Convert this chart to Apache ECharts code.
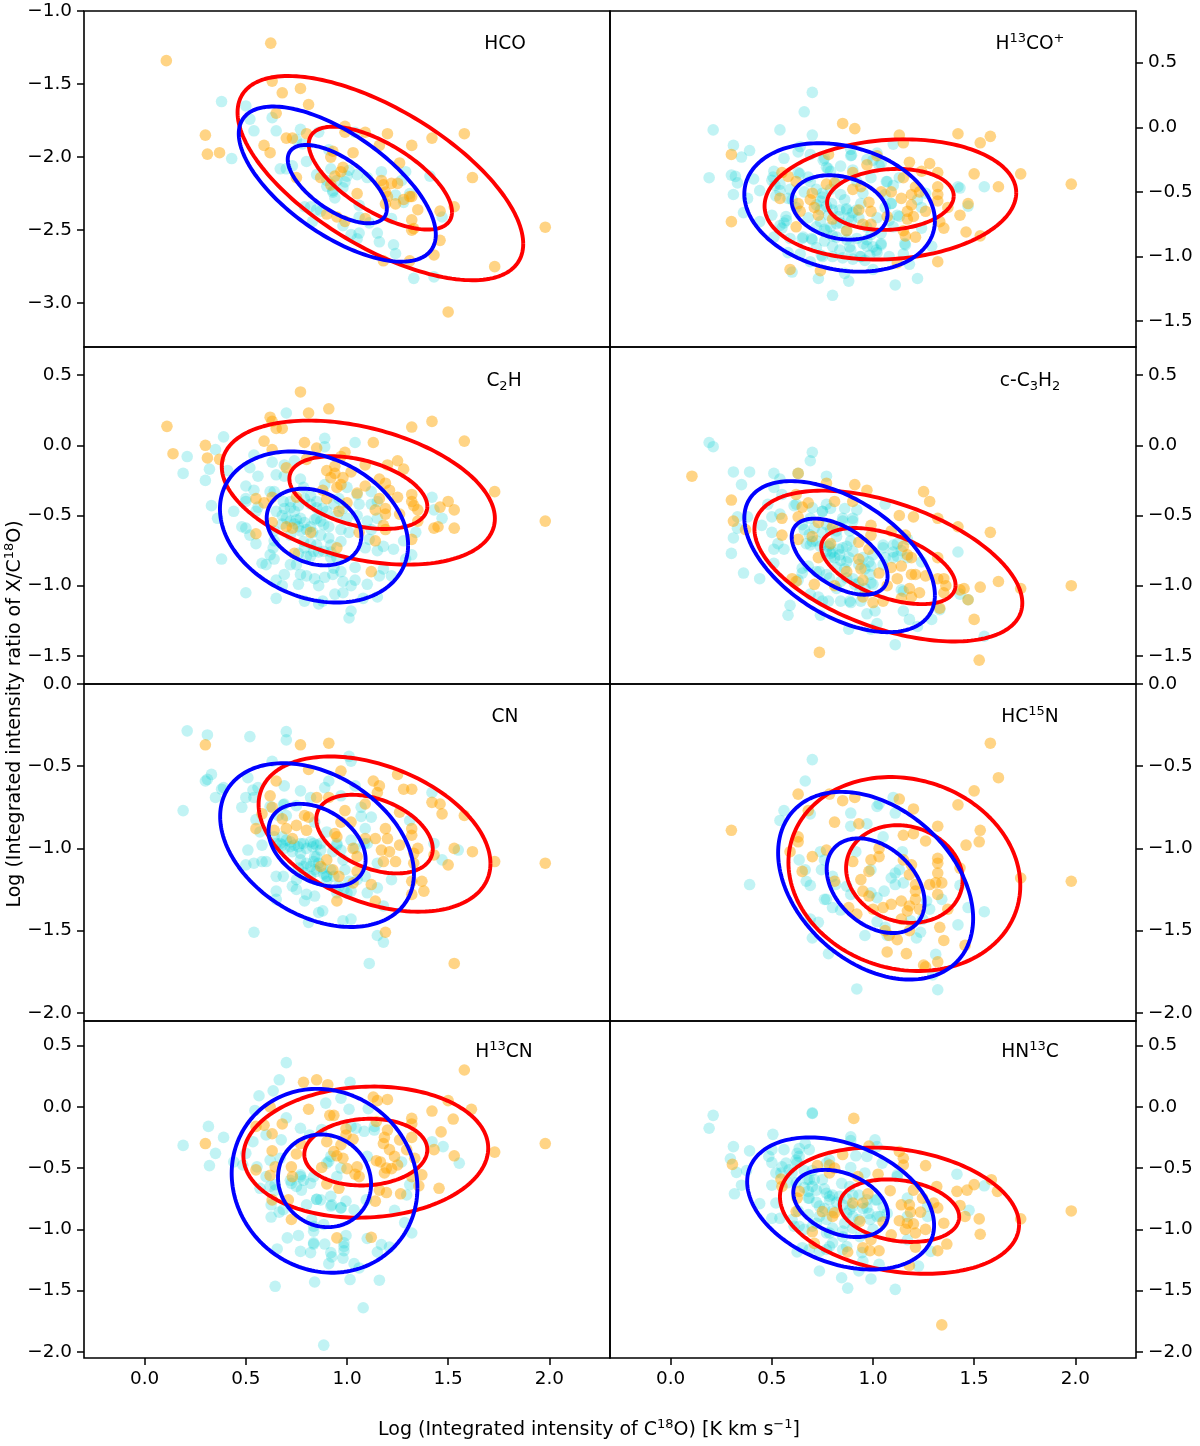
<!DOCTYPE html>
<html><head><meta charset="utf-8">
<style>html,body{margin:0;padding:0;background:#fff}#c{width:1200px;height:1446px}</style>
<script src="https://cdn.jsdelivr.net/npm/echarts@6/dist/echarts.min.js"></script>
</head><body><div id="c"></div>
<script>
// x/y values: [log C18O, log ratio]
const hcoOrange=[[.107,-1.34],[.623,-1.22],[.63,-1.48],[.68,-1.56],[.77,-1.53],[.81,-1.64],[.65,-1.7],[.3,-1.85],[.31,-1.98],[.37,-1.97],[.59,-1.92],[.62,-1.97],[.7,-1.87],[.73,-1.87],[.8,-1.84],[.99,-1.79],[.99,-1.83],[1.09,-1.83],[1.2,-1.84],[1.32,-1.92],[1.42,-1.87],[1.58,-1.84],[1.62,-2.14],[1.16,-1.92],[.93,-1.96],[1.03,-1.97],[.92,-2],[1.26,-2.04],[.75,-2.14],[.98,-2.07],[.97,-2.1],[.94,-2.13],[.87,-2.14],[.92,-2.19],[1.17,-2.16],[1.18,-2.19],[1.22,-2.18],[1.25,-2.18],[1.19,-2.24],[1.2,-2.27],[1.05,-2.25],[1.31,-2.27],[1.28,-2.29],[1.32,-2.27],[1.19,-2.32],[1.24,-2.32],[1.35,-2.36],[1.53,-2.34],[1.46,-2.37],[1.32,-2.43],[1.32,-2.5],[1.33,-2.49],[.9,-2.39],[.95,-2.41],[.99,-2.44],[1.09,-2.42],[1.46,-2.57],[1.43,-2.67],[1.31,-2.71],[1.18,-2.71],[1.73,-2.75],[1.98,-2.48],[1.5,-3.06]];
const hcoTeal=[[.38,-1.62],[.5,-1.65],[.52,-1.74],[.63,-1.73],[.54,-1.82],[.65,-1.82],[.77,-1.81],[.86,-1.83],[1.04,-1.83],[.43,-2.01],[.67,-2.08],[.7,-2.08],[.73,-2.06],[.75,-1.88],[.78,-1.91],[.91,-1.95],[.8,-2.03],[.92,-2.08],[1.01,-2.09],[.85,-2.12],[1.05,-2.12],[1.1,-2.14],[1.17,-2.1],[1.29,-2.1],[1.41,-2.13],[.99,-2.17],[.9,-2.2],[.98,-2.21],[.93,-2.24],[.94,-2.28],[1.27,-2.16],[1.24,-2.26],[1.31,-2.25],[1.28,-2.31],[1.06,-2.33],[.79,-2.34],[.82,-2.34],[.87,-2.37],[1.06,-2.41],[1.11,-2.45],[1.22,-2.42],[1.47,-2.41],[.83,-2.44],[.98,-2.47],[1.02,-2.53],[1.06,-2.52],[1.05,-2.56],[1.15,-2.52],[1.16,-2.58],[1.23,-2.6],[1.24,-2.66],[1.33,-2.83],[1.43,-2.82],[.9,-2.16],[.93,-2.23],[.95,-2.16],[1,-2.13],[.85,-2.36]];
const h13coOrange=[[.3,-.21],[.3,-.73],[.85,.03],[.91,-.01],[1.13,-.06],[1.15,-.12],[1.42,-.05],[1.53,-.12],[1.58,-.07],[1.73,-.36],[1.98,-.44],[1.5,-.36],[1.62,-.46],[.78,-.21],[1.02,-.22],[.97,-.29],[1.18,-.27],[1.28,-.28],[1.32,-.35],[1.24,-.34],[.55,-.35],[.58,-.38],[.62,-.42],[.9,-.35],[1.15,-.39],[.77,-.44],[.81,-.43],[.9,-.48],[.94,-.46],[1.32,-.46],[1.21,-.46],[1.04,-.5],[1.09,-.5],[1.14,-.55],[1.19,-.52],[1.23,-.5],[1.32,-.52],[1.32,-.57],[.7,-.51],[.69,-.56],[.54,-.55],[.63,-.59],[.71,-.62],[.64,-.65],[.98,-.58],[.99,-.65],[.93,-.64],[1.19,-.6],[1.17,-.65],[1.26,-.65],[1.37,-.62],[1.47,-.59],[1.43,-.68],[1.2,-.69],[1.17,-.71],[1.07,-.69],[.73,-.68],[.8,-.71],[.95,-.75],[.99,-.75],[.87,-.8],[.62,-.77],[1.15,-.8],[1.16,-.84],[1.21,-.85],[1.33,-.73],[1.35,-.78],[1.46,-.81],[1.53,-.84],[1.32,-1.04],[1.12,-1.05],[.74,-1.11],[.59,-1.1]];
const h13coTeal=[[.7,.27],[.66,.12],[.21,-.02],[.54,-.02],[.7,-.06],[.31,-.14],[.39,-.18],[.35,-.23],[1.1,-.13],[.64,-.15],[.63,-.19],[.69,-.21],[.89,-.17],[.89,-.22],[.56,-.24],[.76,-.24],[1.02,-.2],[.97,-.25],[1.04,-.28],[.19,-.39],[.3,-.37],[.32,-.38],[.33,-.43],[.41,-.4],[.31,-.52],[.44,-.49],[.38,-.55],[.36,-.66],[.44,-.73],[.51,-.34],[.5,-.41],[.54,-.44],[.52,-.53],[.59,-.48],[.63,-.35],[.77,-.31],[.79,-.34],[.9,-.33],[.99,-.39],[1.07,-.42],[1.13,-.39],[1.42,-.46],[1.43,-.47],[1.55,-.46],[1.47,-.61],[.69,-.42],[.72,-.48],[.75,-.51],[.79,-.48],[.84,-.52],[.86,-.56],[.74,-.57],[.77,-.61],[.8,-.64],[.87,-.64],[.9,-.66],[.94,-.59],[.95,-.51],[1.09,-.59],[1.06,-.62],[1.12,-.68],[1.24,-.62],[1.26,-.51],[1.22,-.56],[.5,-.68],[.57,-.69],[.56,-.74],[.55,-.78],[.74,-.73],[.79,-.77],[.84,-.74],[.76,-.79],[.51,-.85],[.59,-.86],[.65,-.86],[.7,-.87],[.8,-.84],[1.04,-.82],[1.1,-.77],[.99,-.83],[1.24,-.78],[.8,-.92],[.89,-.95],[.97,-.92],[1.04,-.91],[1.16,-.91],[1.29,-.92],[.58,-.97],[.64,-.98],[.75,-1],[.85,-1.01],[.94,-1],[1.02,-.97],[1.08,-1],[1.15,-.98],[.69,-1.04],[1.18,-1.06],[1,-1.1],[.86,-1.13],[.6,-1.12],[.73,-1.17],[.88,-1.19],[1.11,-1.22],[1.22,-1.17],[.8,-1.3],[.75,-.54],[.795,-.59],[.836,-.64],[.869,-.63],[.894,-.72],[.82,-.745],[.77,-.8],[.72,-.77],[.869,-.8],[.918,-.64],[.968,-.77],[1,-.925],[.951,-.9],[.885,-.925],[.836,-.95],[.8,-1],[.935,-1],[.984,-.99],[1.017,-.95],[.745,-.99],[.655,-.85],[.696,-.86],[.572,-.72],[.54,-.76],[.515,-.45],[.506,-.385],[.54,-.49],[.638,-.36],[.68,-.385],[.778,-.32],[.754,-.255],[.894,-.216],[1,-.255],[1.03,-.294],[1.066,-.42],[1.09,-.59],[1.13,-.69],[1.157,-.9],[1.04,-.9],[.72,-.6],[.78,-.68],[.83,-.69],[.88,-.7],[.93,-.7],[.74,-.64],[.68,-.7],[.62,-.62],[.6,-.56],[.58,-.55],[.66,-.5],[.82,-.85],[.87,-.87],[.92,-.86],[.97,-.87],[.76,-.88],[.72,-.93],[.9,-1.02],[.96,-1.03],[1.08,-.72],[1.02,-.7],[1.06,-.52],[1.1,-.45],[.82,-.42],[.84,-.3],[.92,-.42]];
const c2hOrange=[[.11,.135],[.14,-.06],[.3,0],[.31,-.09],[.37,-.1],[.62,.2],[.63,.17],[.65,.12],[.68,.12],[.77,.38],[.81,.23],[.91,.26],[.59,.03],[.63,-.03],[.79,.02],[.85,-.02],[.99,-.05],[.97,-.08],[1.13,.02],[1.32,.13],[1.42,.17],[1.58,.03],[.8,-.1],[.7,-.16],[.9,-.18],[.94,-.15],[.92,-.23],[.94,-.2],[.98,-.23],[1.02,-.19],[1.09,-.14],[1.2,-.14],[1.25,-.11],[1.28,-.17],[.97,-.28],[.95,-.3],[1.09,-.29],[1.05,-.34],[1.16,-.24],[1.19,-.27],[1.21,-.32],[1.16,-.38],[1.25,-.37],[1.32,-.35],[1.32,-.4],[1.33,-.43],[1.35,-.46],[1.35,-.54],[1.46,-.44],[1.5,-.4],[1.53,-.46],[1.53,-.59],[1.45,-.58],[1.43,-.59],[1.73,-.33],[1.98,-.54],[.88,-.32],[.9,-.38],[1,-.41],[.96,-.47],[1.14,-.46],[1.19,-.45],[1.19,-.49],[1.26,-.49],[1.18,-.57],[1.19,-.6],[.75,-.37],[.55,-.38],[.59,-.41],[.63,-.37],[.63,-.55],[.55,-.63],[.7,-.58],[.73,-.59],[.82,-.62],[1.06,-.62],[1.14,-.68],[1.32,-.67],[.74,-.77],[.95,-.73],[1.12,-.9]];
const c2hTeal=[[.39,.06],[.7,.23],[.89,.05],[.89,-.01],[1.04,.02],[.35,-.03],[.21,-.08],[.19,-.2],[.32,-.17],[.3,-.25],[.41,-.18],[.54,-.07],[.63,-.12],[.69,-.14],[.74,-.11],[.52,-.16],[.56,-.22],[.65,-.21],[.69,-.22],[.77,-.24],[.5,-.29],[.54,-.32],[.5,-.38],[.64,-.33],[.33,-.43],[.44,-.47],[.36,-.52],[.48,-.58],[.5,-.59],[.52,-.64],[.55,-.7],[.64,-.68],[.38,-.81],[.58,-.84],[.6,-.85],[.64,-.81],[.62,-.78],[.69,-.45],[.72,-.4],[.79,-.38],[.85,-.4],[.89,-.28],[1,-.3],[1.05,-.35],[1.12,-.33],[.75,-.53],[.79,-.55],[.84,-.53],[.87,-.54],[.91,-.58],[.72,-.64],[.79,-.73],[.82,-.79],[.85,-.71],[.91,-.66],[.97,-.6],[1.01,-.62],[1.1,-.54],[1.11,-.67],[1.09,-.73],[1.15,-.75],[1.23,-.74],[1.32,-.78],[1.29,-.81],[1.34,-.62],[1.42,-.37],[1.43,-.46],[1.47,-.52],[1.15,-.4],[1.04,-.87],[.97,-.9],[.93,-.92],[1.18,-.88],[1.16,-.93],[1.22,-.93],[.69,-.92],[.77,-.92],[.8,-.93],[.84,-.95],[.89,-.94],[1.04,-.96],[1.1,-.99],[.65,-.96],[.68,-1],[.76,-.99],[.86,-1],[.98,-.97],[1.02,-1],[.98,-1.05],[.94,-1.06],[.5,-1.05],[.65,-1.09],[.79,-1.11],[.86,-1.13],[.88,-1.11],[1.08,-1.09],[1.15,-1.08],[1.02,-1.18],[1.01,-1.23],[.72,-.54],[.77,-.52],[.82,-.58],[.85,-.52],[.885,-.565],[.77,-.61],[.785,-.685],[.835,-.755],[.885,-.755],[.92,-.71],[.97,-.685],[.92,-.8],[.82,-.42],[.85,-.445],[.72,-.445],[.65,-.47],[.685,-.4],[.62,-.33],[.785,-.3],[.935,-.42],[.9,-.47],[1.15,-.52],[1.12,-.42],[.55,-.47],[.5,-.4],[.64,-.61],[.635,-.73],[.72,-.85],[.75,-.85],[.935,-.875],[.74,-.56],[.76,-.58],[.8,-.6],[.83,-.62],[.87,-.64],[.82,-.7],[.86,-.76],[.8,-.79],[.76,-.77],[.92,-.76],[.95,-.8],[.7,-.52],[.68,-.5],[.74,-.47],[.76,-.43],[.82,-.36],[.68,-.56],[.98,-.45],[.96,-.38],[1.06,-.42],[1.05,-.5],[.88,-.45],[.95,-.5],[1,-.52],[1.12,-.6],[1.18,-.72],[1.28,-.68],[.56,-.44]];
const c3h2Orange=[[.105,-.22],[.3,-.39],[.31,-.54],[.37,-.6],[.63,-.2],[.77,-.27],[.91,-.28],[.97,-.32],[1.25,-.33],[1.28,-.4],[1.13,-.5],[1.2,-.51],[1.32,-.52],[1.42,-.58],[1.58,-.62],[.62,-.35],[.68,-.41],[.65,-.44],[.81,-.4],[.9,-.4],[.55,-.52],[.63,-.51],[.73,-.55],[.8,-.58],[.55,-.64],[.63,-.67],[.7,-.65],[.99,-.57],[1.09,-.61],[1.16,-.64],[.99,-.64],[.79,-.7],[.93,-.69],[.98,-.74],[1.15,-.72],[1.17,-.78],[1.19,-.8],[1.32,-.8],[.73,-.8],[.93,-.81],[.94,-.88],[1.09,-.87],[1.14,-.86],[.87,-.9],[1.03,-.91],[1.19,-.92],[1.21,-.92],[1.12,-.95],[1.26,-.93],[1.32,-.95],[1.35,-.95],[1.36,-1],[.6,-.95],[.62,-.97],[.71,-.99],[.81,-1],[.95,-.96],[1.07,-1],[1.18,-1.02],[1.23,-1.05],[1.14,-1.09],[1.19,-1.08],[1.35,-1.05],[1,-1.12],[1.05,-1.11],[.95,-1.08],[1.33,-1.16],[1.45,-1.02],[1.43,-1.03],[1.53,-1.01],[1.62,-.97],[1.73,-1.02],[1.47,-1.1],[1.5,-1.24],[1.98,-1],[.735,-1.475],[1.525,-1.53]];
const c3h2Teal=[[.19,.02],[.21,-.01],[.7,-.05],[.69,-.11],[.31,-.19],[.39,-.19],[.35,-.28],[.51,-.2],[.54,-.24],[.77,-.22],[.63,-.2],[.51,-.3],[.55,-.35],[.48,-.42],[.61,-.43],[.77,-.42],[.79,-.45],[.86,-.45],[.92,-.46],[1.06,-.42],[.33,-.51],[.38,-.51],[.45,-.57],[.33,-.59],[.31,-.66],[.3,-.77],[.36,-.91],[.44,-.95],[.5,-.51],[.54,-.49],[.5,-.62],[.53,-.7],[.51,-.74],[.56,-.74],[.51,-.84],[.69,-.71],[.71,-.59],[.69,-.52],[.75,-.47],[.85,-.54],[.9,-.52],[.82,-.65],[.89,-.68],[.79,-.77],[.81,-.8],[.85,-.73],[.87,-.83],[.99,-.86],[1,-.78],[1.05,-.73],[1.1,-.76],[1.17,-.67],[1.12,-.79],[1.24,-.83],[.65,-.91],[.63,-.96],[.77,-.92],[.84,-.97],[.99,-.98],[.91,-.99],[1.42,-.76],[1.43,-1.06],[1.47,-1.1],[1.14,-1.03],[.69,-1.06],[.73,-1.08],[.78,-1.11],[.84,-1.11],[.89,-1.12],[.94,-1.11],[.59,-1.14],[.58,-1.21],[.74,-1.21],[1.01,-1.18],[.97,-1.2],[1.15,-1.18],[1.18,-1.24],[1.29,-1.24],[1.33,-1.17],[1.02,-1.27],[.88,-1.31],[.99,-1.31],[1.22,-1.29],[1.11,-1.42],[1.55,-1.36],[.77,-.755],[.79,-.8],[.835,-.78],[.87,-.72],[.9,-.755],[.785,-.71],[.82,-.61],[.885,-.61],[.77,-.565],[.685,-.635],[.65,-.565],[.7,-.685],[.95,-.8],[.985,-.92],[1,-.99],[.935,-1.04],[.87,-.945],[.785,-.945],[.735,-.9],[.65,-.875],[1.1,-.71],[1.1,-.8],[1.05,-.71],[1.17,-.8],[.7,-.445],[.62,-.42],[.75,-.47],[.85,-.52],[.9,-.54],[1.15,-1.04],[.75,-1.11],[.885,-1.11],[.78,-.72],[.8,-.76],[.83,-.74],[.84,-.82],[.88,-.8],[.82,-.87],[.86,-.88],[.93,-.85],[.96,-.88],[.98,-.83],[.74,-.72],[.72,-.68],[.75,-.62],[.79,-.6],[.66,-.6],[.67,-.7],[.9,-.95],[.93,-.98],[1.06,-.8],[1.05,-.85],[1.12,-.7],[1.14,-.75],[.72,-.9],[.68,-.86],[.96,-1.02],[.82,-1.02]];
const cnOrange=[[.3,-.37],[.77,-.37],[.91,-.36],[.97,-.53],[.81,-.52],[1.25,-.55],[1.13,-.59],[1.16,-.62],[1.28,-.64],[1.32,-.64],[1.15,-.66],[.65,-.59],[.62,-.68],[.63,-.75],[.58,-.79],[.85,-.69],[.91,-.69],[1.09,-.73],[.99,-.77],[1.42,-.72],[1.46,-.73],[1.47,-.79],[1.58,-.8],[1.26,-.78],[.68,-.82],[.79,-.8],[.81,-.81],[.75,-.86],[.7,-.88],[.8,-.89],[.55,-.88],[.64,-.89],[.73,-.94],[.97,-.84],[1.02,-.84],[.94,-.91],[.95,-.93],[1.19,-.88],[1.2,-.94],[1.09,-.94],[1.14,-.94],[1.32,-.88],[1.32,-.92],[1.26,-.98],[1.03,-1],[1.17,-1.01],[1.21,-1.02],[1.35,-1],[1.33,-1.03],[1.53,-1],[1.62,-1.02],[1.43,-1.04],[1.05,-1.05],[.9,-1.07],[.87,-1.11],[.93,-1.13],[1.18,-1.08],[1.24,-1.08],[1.33,-1.09],[1.5,-1.1],[1.73,-1.08],[1.98,-1.09],[1.05,-1.14],[.96,-1.17],[1.03,-1.21],[1.32,-1.2],[1.37,-1.2],[1.38,-1.26],[1.32,-1.28],[1.12,-1.22],[.95,-1.32],[1.14,-1.32],[1.19,-1.51],[1.53,-1.7]];
const cnTeal=[[.21,-.285],[.31,-.31],[.52,-.32],[.7,-.29],[.7,-.34],[1.01,-.44],[1.02,-.47],[.63,-.47],[.33,-.55],[.3,-.59],[.31,-.58],[.19,-.77],[.39,-.63],[.38,-.64],[.35,-.69],[.48,-.75],[.5,-.69],[.51,-.57],[.56,-.63],[.54,-.69],[.69,-.62],[.91,-.59],[.89,-.63],[.77,-.65],[1.04,-.62],[.69,-.73],[.75,-.74],[.82,-.69],[.97,-.68],[1.07,-.75],[1.12,-.81],[1.42,-.66],[1.31,-.83],[1.43,-.97],[1.55,-1.01],[1.47,-1.07],[.51,-1.01],[.58,-.98],[.5,-1.1],[.54,-1.09],[.58,-1.08],[.6,-1.08],[.65,-1.17],[.65,-.97],[.68,-.98],[.72,-.99],[.77,-.97],[.82,-.96],[.85,-.98],[.77,-1.07],[.84,-1.05],[.84,-1.13],[.79,-1.15],[.9,-1.17],[.87,-1.01],[.95,-.98],[1.02,-.95],[1.1,-.97],[.99,-1.13],[1.09,-1.17],[1.15,-1.09],[1.22,-1.19],[.73,-1.23],[.75,-1.25],[.65,-1.26],[.65,-1.31],[.79,-1.32],[.8,-1.28],[.84,-1.29],[.88,-1.38],[.86,-1.39],[1.02,-1.26],[1.1,-1.27],[1.15,-1.24],[1.18,-1.35],[.81,-1.45],[.98,-1.44],[1.02,-1.43],[.54,-1.51],[1.15,-1.53],[1.18,-1.57],[1.11,-1.7],[.67,-.97],[.69,-1],[.74,-.98],[.785,-.97],[.835,-.97],[.64,-.93],[.685,-.735],[.77,-1.03],[.785,-1.11],[.82,-1.11],[.85,-1.14],[.885,-1.155],[.85,-1.05],[.835,-1.08],[.9,-1.17],[.935,-1.17],[1,-1.27],[.985,-1.25],[.95,-1.27],[.95,-.97],[.97,-1.01],[1.07,-.805],[1.085,-.97],[.75,-1.19],[.685,-1.17],[1.05,-1.19],[.55,-.825],[.57,-.9],[.62,-.745],[.535,-.645],[.7,-.95],[.72,-.96],[.76,-.99],[.8,-1],[.83,-.99],[.87,-.97],[.73,-1.02],[.68,-.93],[.76,-1.12],[.8,-1.09],[.86,-1.09],[.88,-1.12],[.92,-1.13],[.82,-1.17],[.9,-1.2],[.96,-1.23],[1.01,-1.2],[.93,-1.02],[.98,-1.07],[1.04,-1],[1.09,-.88],[.84,-.84],[.66,-.8],[.7,-.8],[.9,-.9]];
const hc15nOrange=[[.3,-.89],[.63,-.67],[.785,-.67],[.85,-.71],[.91,-.69],[1.13,-.7],[1.2,-.76],[.68,-.77],[.81,-.84],[.93,-.85],[1.32,-.865],[1.58,-.36],[1.62,-.57],[1.5,-.65],[1.42,-.735],[1.53,-.89],[1.525,-.96],[1.46,-.98],[1.15,-.92],[1.2,-.91],[1.26,-.955],[.63,-.93],[.63,-.96],[.59,-1.02],[.7,-1.05],[.77,-1.01],[1.03,-1],[1.03,-1.05],[.99,-1.07],[.9,-1.08],[1.15,-1.07],[1.19,-1.1],[1.32,-1.06],[1.32,-1.09],[1.43,-1.12],[.65,-1.14],[.98,-1.14],[1.18,-1.16],[1.32,-1.15],[.94,-1.19],[.81,-1.2],[1.28,-1.22],[1.31,-1.21],[1.34,-1.21],[1.73,-1.18],[1.98,-1.2],[1.21,-1.22],[1.21,-1.26],[.95,-1.26],[.98,-1.29],[1.32,-1.28],[1.21,-1.31],[1.14,-1.32],[1.09,-1.34],[1.05,-1.36],[1.18,-1.35],[1.17,-1.38],[1.23,-1.37],[1.37,-1.37],[.88,-1.36],[.92,-1.4],[1,-1.37],[1.14,-1.43],[1.18,-1.5],[1.33,-1.48],[1.06,-1.5],[1.08,-1.53],[1.12,-1.555],[1.35,-1.56],[1.455,-1.59],[1.07,-1.63],[1.165,-1.64],[1.25,-1.71],[1.26,-1.72],[1.32,-1.69]];
const hc15nTeal=[[.7,-.46],[.665,-.59],[.56,-.77],[.54,-.83],[.69,-.79],[1.1,-.69],[1.03,-.73],[1.02,-.745],[1.11,-.785],[.89,-.785],[.89,-.865],[.97,-.85],[1.05,-.93],[1.145,-1.02],[.915,-1.02],[.74,-1.02],[.76,-1.07],[.635,-1.07],[.665,-1.13],[.745,-1.13],[.39,-1.22],[.67,-1.2],[.69,-1.225],[.8,-1.17],[.815,-1.22],[.99,-1.13],[1.13,-1.13],[1.11,-1.15],[1.09,-1.18],[1.11,-1.22],[1.15,-1.21],[.87,-1.23],[1.055,-1.26],[.99,-1.27],[.89,-1.28],[1.02,-1.3],[.76,-1.31],[.77,-1.31],[.8,-1.36],[.84,-1.375],[1.43,-1.225],[1.265,-1.32],[1.34,-1.31],[1.28,-1.37],[1.47,-1.36],[1.55,-1.385],[.69,-1.43],[.73,-1.45],[1.185,-1.44],[1.245,-1.43],[1.02,-1.445],[1.06,-1.48],[1.235,-1.51],[1.215,-1.545],[1.42,-1.465],[.7,-1.545],[.96,-1.53],[1.07,-1.53],[.78,-1.64],[1.31,-1.645],[1.295,-1.77],[.92,-1.855],[1.32,-1.86]];
const h13cnOrange=[[.3,-.3],[.785,.2],[.85,.22],[.905,.18],[.62,0],[.55,-.16],[.59,-.15],[.68,-.14],[.63,-.22],[.81,-.02],[.915,-.07],[.935,-.07],[1.13,.08],[1.15,.05],[1.2,.06],[1.5,.05],[1.58,.3],[1.615,-.02],[1.42,-.035],[1.525,-.1],[1.32,-.095],[1.32,-.14],[1.145,-.12],[.995,-.18],[.995,-.23],[1.03,-.265],[1.2,-.19],[1.185,-.25],[1.18,-.3],[1.32,-.25],[1.26,-.27],[1.465,-.205],[1.43,-.35],[1.53,-.4],[1.73,-.37],[1.98,-.3],[.77,-.3],[.9,-.285],[.97,-.31],[1.21,-.35],[1.295,-.35],[.63,-.36],[.75,-.385],[.935,-.365],[.95,-.4],[.98,-.42],[1.235,-.405],[1.335,-.42],[1.145,-.44],[1.165,-.45],[1.25,-.475],[.725,-.49],[.645,-.49],[.55,-.515],[.875,-.495],[1,-.505],[1.05,-.49],[1.195,-.5],[1.22,-.505],[1.185,-.54],[1.04,-.55],[1.37,-.555],[.62,-.56],[.73,-.57],[1.06,-.57],[1.32,-.57],[.9,-.63],[.96,-.665],[1.16,-.68],[1.195,-.7],[1.265,-.71],[1.355,-.645],[1.455,-.665],[.63,-.76],[.71,-.76],[1.14,-.77],[.725,-.92],[.95,-1.07],[1.12,-1.065]];
const h13cnTeal=[[.7,.36],[.665,.22],[.635,.13],[.565,.09],[1.015,.2],[.545,-.03],[.895,.03],[.97,.07],[1.01,-.02],[1.105,-.015],[.7,-.09],[.315,-.16],[.39,-.25],[.35,-.38],[.32,-.48],[.19,-.315],[.535,-.285],[.6,-.23],[.675,-.27],[.77,-.175],[.815,-.23],[.875,-.185],[1.045,-.175],[1.135,-.16],[1.085,-.2],[.44,-.45],[.485,-.475],[.5,-.38],[.62,-.435],[.67,-.42],[.91,-.445],[1.1,-.405],[1.27,-.45],[1.42,-.285],[1.475,-.325],[1.555,-.46],[.555,-.49],[.6,-.57],[.57,-.665],[.645,-.635],[.725,-.625],[.775,-.68],[.82,-.625],[.77,-.555],[.95,-.57],[.97,-.5],[1.31,-.635],[1.295,-.72],[.625,-.8],[.685,-.84],[.665,-.86],[.625,-.9],[.85,-.755],[.92,-.73],[.995,-.77],[.92,-.81],[.97,-.825],[1.035,-.84],[.8,-.8],[1.095,-.76],[1.235,-.845],[.825,-.92],[.885,-.96],[1.285,-.945],[1.32,-1.03],[.835,-1.015],[.76,-1.05],[.705,-1.07],[.995,-1.05],[1.1,-1.075],[.835,-1.12],[.89,-1.12],[.985,-1.11],[.985,-1.175],[1.17,-1.125],[1.21,-1.145],[1.15,-1.185],[.655,-1.16],[.77,-1.18],[.82,-1.19],[.92,-1.19],[.925,-1.225],[.98,-1.235],[.91,-1.28],[1.035,-1.28],[1.06,-1.315],[.645,-1.465],[.84,-1.43],[1.015,-1.41],[1.16,-1.415],[1.08,-1.64],[.885,-1.945],[.85,-.755],[.87,-.76],[.75,-.65],[.72,-.6],[.785,-.6],[.835,-.57],[.9,-.46],[.92,-.405],[.97,-.825],[.925,-.8],[.62,-.65],[.77,-.57],[.835,-1.11],[.985,-1.14],[.835,-.975],[1.135,-.19],[1.02,-.16],[.645,-.68]];
const hn13cOrange=[[.305,-.47],[.905,-.095],[.98,-.32],[.85,-.39],[1.13,-.365],[1.15,-.42],[1.15,-.475],[1.26,-.48],[.725,-.48],[.785,-.475],[.81,-.5],[.785,-.54],[.925,-.57],[1.025,-.55],[.545,-.59],[.55,-.65],[.635,-.69],[.625,-.745],[1.085,-.685],[.975,-.71],[.95,-.785],[.9,-.785],[1.315,-.65],[1.2,-.68],[1.245,-.745],[1.415,-.69],[1.465,-.68],[1.5,-.635],[1.585,-.595],[1.615,-.69],[1.14,-.8],[1.18,-.8],[1.3,-.785],[1.32,-.825],[1.43,-.805],[.62,-.855],[.75,-.855],[.81,-.865],[.8,-.895],[1.185,-.86],[1.235,-.86],[1.455,-.895],[1.525,-.915],[1.73,-.915],[1.98,-.85],[1.13,-.93],[.935,-.935],[1.05,-.94],[1.17,-.95],[1.2,-.955],[1.16,-1],[1.26,-1],[1.21,-1.03],[1.35,-.95],[.7,-1.02],[1.09,-1.045],[1.53,-1.04],[.99,-1.085],[.71,-1.115],[1.21,-1.145],[1.365,-1.12],[.95,-1.15],[.985,-1.175],[1.03,-1.175],[.875,-1.185],[1.32,-1.175],[1.18,-1.295],[1.34,-1.78]];
const hn13cTeal=[[.21,-.07],[.19,-.175],[.7,-.055],[.7,-.05],[.505,-.225],[.89,-.245],[.89,-.275],[1.01,-.27],[.31,-.325],[.39,-.36],[.295,-.425],[.325,-.535],[.375,-.52],[.35,-.64],[.315,-.71],[.5,-.35],[.56,-.35],[.635,-.34],[.685,-.35],[.665,-.3],[.635,-.405],[.485,-.405],[.5,-.455],[.57,-.46],[.625,-.455],[.915,-.4],[.97,-.405],[1.045,-.46],[1.02,-.325],[.545,-.54],[.6,-.54],[.89,-.495],[.96,-.54],[1.12,-.57],[1.415,-.55],[1.55,-.645],[1.475,-.845],[.5,-.64],[.44,-.79],[.52,-.785],[.5,-.91],[.54,-.91],[.675,-.595],[.71,-.595],[.75,-.595],[.685,-.745],[.785,-.73],[.845,-.625],[.885,-.84],[1.02,-.76],[1.035,-.895],[1.17,-.745],[1.27,-.895],[.735,-.895],[.9,-.895],[.97,-.825],[.61,-.975],[.66,-1],[.77,-1.03],[.85,-1.015],[1,-1],[1.17,-1.085],[.785,-1.14],[.85,-1.165],[.65,-1.15],[.625,-1.185],[.735,-1.18],[1.285,-1.18],[.945,-1.19],[.95,-1.26],[1.03,-1.285],[1.225,-1.3],[.93,-1.34],[.735,-1.34],[.99,-1.405],[.845,-1.395],[.875,-1.48],[1.11,-1.49],[.685,-.595],[.68,-.745],[.7,-.65],[.77,-.705],[.785,-.76],[.735,-.81],[.835,-.73],[.885,-.65],[.9,-.81],[.87,-.87],[.97,-.76],[1.01,-.76],[1.02,-.895],[.985,-.92],[.77,-.92],[.785,-1.03],[.7,-.975],[.635,-.975],[.6,-.92],[.585,-.515],[.55,-.49],[.52,-.54],[.62,-.435],[.625,-.38],[.77,-.46],[.785,-.435],[.85,-1.06],[.8,-1.11],[.87,-1.14],[.935,-1.06],[1.17,-.895],[1.12,-.555],[1.27,-.81],[.77,-1.165],[.685,-1.165],[.62,-.62],[.66,-.66],[.68,-.69],[.72,-.68],[.76,-.67],[.8,-.72],[.82,-.78],[.72,-.78],[.76,-.83],[.8,-.85],[.85,-.8],[.87,-.75],[.93,-.72],[.9,-.72],[.95,-.83],[.98,-.87],[.72,-.95],[.8,-.99],[.86,-.95],[.93,-.92],[.68,-.88],[.63,-.85],[.58,-.62],[.66,-.52],[.7,-.52],[.9,-.99],[1.05,-.82],[1.07,-.87]];

// ellipses: [centre x, centre y, half width, half height, correlation]
const hcoRed=[[1.165,-2.144,.706,.699,-.644],[1.165,-2.144,.354,.352,-.66]];
const hcoBlue=[[.952,-2.185,.487,.531,-.65],[.952,-2.185,.245,.268,-.63]];
const h13coRed=[[1.086,-.558,.622,.465,.11],[1.086,-.558,.313,.236,.11]];
const h13coBlue=[[.835,-.62,.471,.497,-.21],[.835,-.62,.237,.249,-.21]];
const c2hRed=[[1.056,-.337,.675,.513,-.36],[1.056,-.337,.341,.259,-.38]];
const c2hBlue=[[.837,-.582,.465,.538,-.24],[.837,-.582,.234,.273,-.23]];
const c3h2Red=[[1.076,-.86,.662,.537,-.49],[1.076,-.86,.332,.271,-.5]];
const c3h2Blue=[[.835,-.793,.471,.538,-.51],[.835,-.793,.237,.271,-.52]];
const cnRed=[[1.136,-.913,.573,.472,-.38],[1.136,-.913,.288,.239,-.38]];
const cnBlue=[[.852,-.98,.479,.498,-.35],[.852,-.98,.24,.251,-.35]];
const hc15nRed=[[1.155,-1.156,.573,.59,-.12],[1.155,-1.156,.288,.297,-.12]];
const hc15nBlue=[[1.013,-1.227,.482,.571,-.35],[1.013,-1.227,.242,.288,-.35]];
const h13cnRed=[[1.093,-.37,.605,.535,.06],[1.093,-.37,.304,.272,.07]];
const h13cnBlue=[[.889,-.604,.459,.75,-.08],[.889,-.604,.23,.378,-.07]];
const hn13cRed=[[1.131,-.848,.591,.515,-.22],[1.131,-.848,.295,.255,-.2]];
const hn13cBlue=[[.84,-.789,.462,.539,-.33],[.84,-.789,.234,.274,-.33]];

const xTicks=[0,.5,1,1.5,2];
const xRange=[-.3,2.3];
const yRanges=[[-3.3,-1],[-1.7,.9],[-1.7,.7],[-1.7,.7],[-2.05,0],[-2.05,0],[-2.05,.7],[-2.05,.7]];
const yTicks=[[-3,-2.5,-2,-1.5,-1],[-1.5,-1,-.5,0,.5],[-1.5,-1,-.5,0,.5],[-1.5,-1,-.5,0,.5],[-2,-1.5,-1,-.5,0],[-2,-1.5,-1,-.5,0],[-2,-1.5,-1,-.5,0,.5],[-2,-1.5,-1,-.5,0,.5]];
const panelTitles=['{n|HCO}','{n|H}{s|13}{n|CO}{s|+}','{n|C}{u|2}{n|H}','{n|c-C}{u|3}{n|H}{u|2}','{n|CN}','{n|HC}{s|15}{n|N}','{n|H}{s|13}{n|CN}','{n|HN}{s|13}{n|C}'];
const orangeSets=[hcoOrange,h13coOrange,c2hOrange,c3h2Orange,cnOrange,hc15nOrange,h13cnOrange,hn13cOrange];
const tealSets=[hcoTeal,h13coTeal,c2hTeal,c3h2Teal,cnTeal,hc15nTeal,h13cnTeal,hn13cTeal];
const redSets=[hcoRed,h13coRed,c2hRed,c3h2Red,cnRed,hc15nRed,h13cnRed,hn13cRed];
const blueSets=[hcoBlue,h13coBlue,c2hBlue,c3h2Blue,cnBlue,hc15nBlue,h13cnBlue,hn13cBlue];

const FONT='"DejaVu Sans"', FS=18.4;
const colLeft=[84,610], rowTop=[11,347,684,1021], rowH=[336,337,337,337], W=526;
const titlePos=[[505,44],[1030,44],[504,381],[1030,381],[505,717],[1030,717],[504,1052],[1030,1052]];
const richText={
  n:{fontFamily:FONT,fontSize:18.6,lineHeight:24,verticalAlign:'middle',color:'#000'},
  a:{fontFamily:FONT,fontSize:19,lineHeight:24,verticalAlign:'middle',color:'#000'},
  s:{fontFamily:FONT,fontSize:13,lineHeight:14,padding:[0,0,0,0],verticalAlign:'top',color:'#000'},
  u:{fontFamily:FONT,fontSize:13,lineHeight:14,verticalAlign:'bottom',color:'#000'}
};

function ellipseItem(color){
  return function(params,api){
    const cx=api.value(0),cy=api.value(1),hw=api.value(2),hh=api.value(3),r=api.value(4);
    const q=Math.sqrt(1-r*r),pts=[];
    for(let i=0;i<=180;i++){
      const t=i/180*2*Math.PI;
      pts.push(api.coord([cx+hw*Math.cos(t),cy+hh*(r*Math.cos(t)+q*Math.sin(t))]));
    }
    return {type:'polyline',shape:{points:pts},style:{stroke:color,fill:null,lineWidth:3.9,lineJoin:'round'},silent:true};
  };
}
const minus=v=>{const s=Math.abs(v).toFixed(1);return v<0?'\u2212'+s:s;};
const grids=[],xAxes=[],yAxes=[],series=[],graphics=[];
for(let i=0;i<8;i++){
  const col=i%2,row=(i-col)/2,bottom=row===3;
  grids.push({left:colLeft[col],top:rowTop[row],width:W,height:rowH[row],show:true,borderColor:'#000',borderWidth:1.6,backgroundColor:'transparent',containLabel:false,outerBoundsMode:'none'});
  xAxes.push({type:'value',gridIndex:i,min:xRange[0],max:xRange[1],splitLine:{show:false},axisLine:{show:false,onZero:false},
    axisTick:{show:bottom,length:7,customValues:xTicks,lineStyle:{color:'#000',width:1.5}},
    axisLabel:{show:bottom,customValues:xTicks,formatter:minus,fontFamily:FONT,fontSize:FS,color:'#000',margin:12,hideOverlap:false}});
  yAxes.push({type:'value',gridIndex:i,position:col?'right':'left',min:yRanges[i][0],max:yRanges[i][1],splitLine:{show:false},axisLine:{show:false,onZero:false},
    axisTick:{show:true,length:7,customValues:yTicks[i],lineStyle:{color:'#000',width:1.5}},
    axisLabel:{show:true,customValues:yTicks[i],formatter:minus,fontFamily:FONT,fontSize:FS,color:'#000',margin:12,hideOverlap:false}});
  const base={xAxisIndex:i,yAxisIndex:i,animation:false,silent:true};
  series.push({...base,type:'scatter',name:'teal'+i,data:tealSets[i],symbolSize:11.6,z:2,itemStyle:{color:'rgba(0,206,209,0.3)',borderWidth:0}});
  series.push({...base,type:'scatter',name:'orange'+i,data:orangeSets[i],symbolSize:11.6,z:3,itemStyle:{color:'rgba(255,165,0,0.6)',borderWidth:0}});
  series.push({...base,type:'custom',name:'red'+i,data:redSets[i],dimensions:['cx','cy','hw','hh','r'],encode:{x:0,y:1},renderItem:ellipseItem('#ff0000'),z:4});
  series.push({...base,type:'custom',name:'blue'+i,data:blueSets[i],dimensions:['cx','cy','hw','hh','r'],encode:{x:0,y:1},renderItem:ellipseItem('#0000ff'),z:5});
  graphics.push({type:'text',x:titlePos[i][0],y:titlePos[i][1],z:10,style:{text:panelTitles[i],rich:richText,align:'center',verticalAlign:'middle'}});
}
graphics.push({type:'text',x:589,y:1430,z:10,style:{text:'{a|Log (Integrated intensity of C}{s|18}{a|O) [K km s}{s|\u22121}{a|]}',rich:richText,align:'center',verticalAlign:'middle'}});
graphics.push({type:'text',x:15,y:714,rotation:Math.PI/2,z:10,style:{text:'{a|Log (Integrated intensity ratio of X/C}{s|18}{a|O)}',rich:richText,align:'center',verticalAlign:'middle'}});

const chart=echarts.init(document.getElementById('c'),null,{renderer:'canvas'});
chart.setOption({animation:false,backgroundColor:'#fff',grid:grids,xAxis:xAxes,yAxis:yAxes,series:series,graphic:{elements:graphics}});
</script></body></html>
